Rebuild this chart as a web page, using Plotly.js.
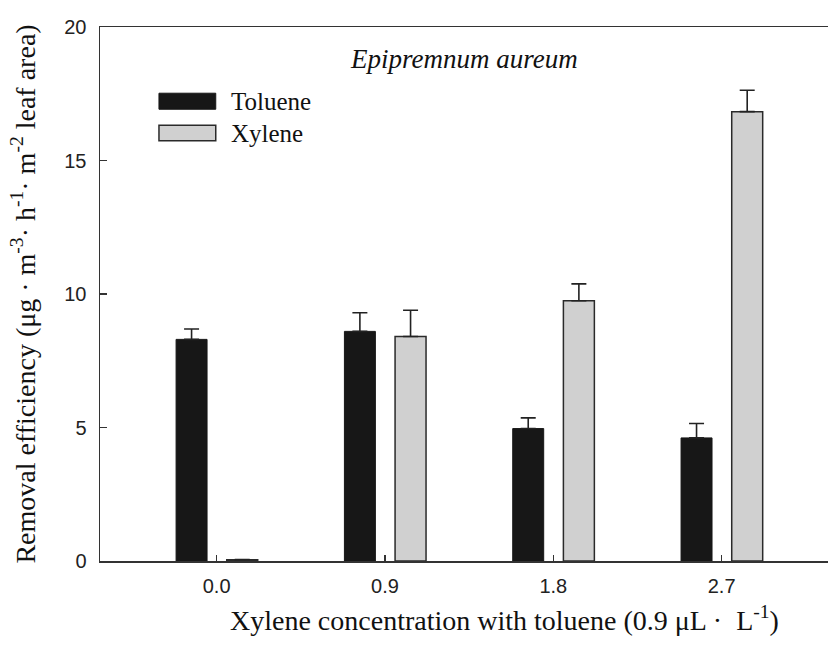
<!DOCTYPE html>
<html>
<head>
<meta charset="utf-8">
<script src="https://cdn.plot.ly/plotly-3.0.1.min.js"></script>
<style>html,body{margin:0;padding:0;background:#fff;}#chart{width:828px;height:651px;}</style>
</head>
<body>
<div id="chart"></div>
<script>
// Data
const categories = ["0.0", "0.9", "1.8", "2.7"];
const tolueneValues = [8.30, 8.60, 4.96, 4.61];
const tolueneErrors = [0.39, 0.70, 0.40, 0.54];
const xyleneValues = [0.05, 8.41, 9.75, 16.83];
const xyleneErrors = [0.00, 0.98, 0.63, 0.80];
const yTicks = [0, 5, 10, 15, 20];
const seriesNames = ["Toluene", "Xylene"];

const serif = "Liberation Serif";
const sans = "Liberation Sans";

const traces = [
  {
    type: "bar", name: seriesNames[0], x: categories, y: tolueneValues,
    offset: -0.241, width: 0.184,
    marker: {color: "#171717", line: {color: "#171717", width: 1}},
    error_y: {type: "data", array: tolueneErrors, symmetric: false, arrayminus: [0,0,0,0],
              color: "#222", thickness: 1.6, width: 7.5},
    showlegend: false
  },
  {
    type: "bar", name: seriesNames[1], x: categories, y: xyleneValues,
    offset: 0.06, width: 0.184,
    marker: {color: "#d0d0d0", line: {color: "#2a2a2a", width: 1.5}},
    error_y: {type: "data", array: xyleneErrors, symmetric: false, arrayminus: [0,0,0,0],
              color: "#222", thickness: 1.6, width: 7.5},
    showlegend: false
  }
];

// legend swatches (custom, large)
const legX0 = 0.081, legX1 = 0.159;
const shapes = [
  {type: "rect", xref: "paper", yref: "paper", x0: legX0, x1: legX1, y0: 0.846, y1: 0.876,
   fillcolor: "#171717", line: {color: "#171717", width: 1}},
  {type: "rect", xref: "paper", yref: "paper", x0: legX0, x1: legX1, y0: 0.787, y1: 0.816,
   fillcolor: "#d0d0d0", line: {color: "#2a2a2a", width: 1.5}}
];

const annotations = [
  {text: seriesNames[0], xref: "paper", yref: "paper", x: 0.177, y: 0.861, xanchor: "left", yanchor: "middle",
   showarrow: false, font: {family: serif, size: 25, color: "#111"}},
  {text: seriesNames[1], xref: "paper", yref: "paper", x: 0.177, y: 0.801, xanchor: "left", yanchor: "middle",
   showarrow: false, font: {family: serif, size: 25, color: "#111"}},
  {text: "<i>Epipremnum aureum</i>", xref: "paper", yref: "paper", x: 0.5, y: 0.94, xanchor: "center", yanchor: "middle",
   showarrow: false, font: {family: serif, size: 27, color: "#111"}},
  {text: "Xylene concentration with toluene (0.9 μL ·  L<sup>-1</sup>)", xref: "paper", yref: "paper",
   x: 0.556, y: -0.108, xanchor: "center", yanchor: "middle",
   showarrow: false, font: {family: serif, size: 28, color: "#111"}}
];

const layout = {
  width: 828, height: 651,
  margin: {l: 100, r: 0, t: 27, b: 90},
  paper_bgcolor: "#fff", plot_bgcolor: "#fff",
  barmode: "overlay",
  showlegend: false,
  xaxis: {
    type: "category", range: [-0.693, 3.632],
    showline: true, linecolor: "#333", linewidth: 1.5, mirror: true,
    ticks: "inside", ticklen: 6, tickcolor: "#333", tickwidth: 1.2,
    showgrid: false, zeroline: false,
    tickfont: {family: sans, size: 20, color: "#222"},
    ticklabelstandoff: 6
  },
  yaxis: {
    range: [0, 20], tickvals: yTicks,
    showline: true, linecolor: "#333", linewidth: 1.5,
    ticks: "inside", ticklen: 7, tickcolor: "#333", tickwidth: 1.2,
    showgrid: false, zeroline: false,
    tickfont: {family: sans, size: 20, color: "#222"},
    ticklabelstandoff: 8,
    title: {text: "Removal efficiency (μg · m<sup>-3</sup>· h<sup>-1</sup>· m<sup>-2</sup> leaf area)",
            font: {family: serif, size: 28, color: "#111"}, standoff: 20}
  },
  shapes: shapes,
  annotations: annotations
};

Plotly.newPlot("chart", traces, layout, {displayModeBar: false, staticPlot: true});
</script>
</body>
</html>
